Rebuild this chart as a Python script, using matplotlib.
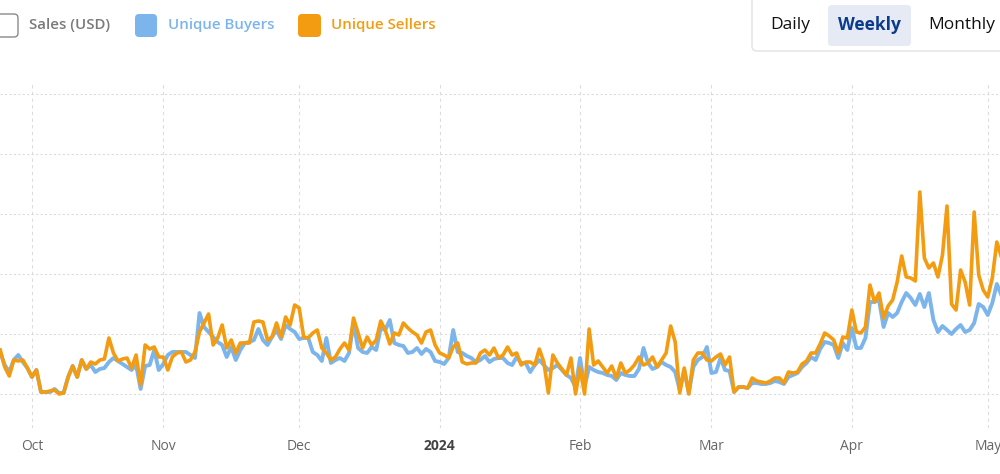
import pandas as pd
import matplotlib
matplotlib.use("Agg")
import matplotlib.pyplot as plt
from matplotlib.patches import FancyBboxPatch
from matplotlib.transforms import IdentityTransform

plt.rcParams["font.family"] = ["Open Sans", "DejaVu Sans"]

# daily series, first day = start_date
start_date = "2023-09-26"

unique_buyers = [
    42, 29, 22, 34, 39, 32, 26, 17, 24, 2, 2, 2, 5, 1, 1, 17, 28, 17, 34, 25,
    29, 22, 25, 26, 32, 36, 33, 30, 27, 24, 29, 5, 28, 29, 44, 24, 30, 39, 42, 42,
    42, 42, 39, 36, 81, 67, 62, 57, 52, 49, 37, 47, 34, 44, 51, 52, 54, 65, 54, 49,
    57, 64, 55, 69, 65, 62, 55, 56, 56, 42, 39, 33, 56, 31, 34, 36, 33, 41, 71, 46,
    42, 41, 47, 44, 66, 64, 74, 51, 49, 48, 41, 42, 46, 40, 45, 42, 33, 32, 30, 36,
    64, 42, 41, 38, 36, 32, 34, 38, 32, 35, 36, 36, 31, 29, 37, 31, 31, 22, 29, 34,
    29, 24, 26, 29, 24, 19, 16, 7, 36, 7, 27, 24, 22, 21, 19, 18, 14, 21, 19, 18,
    18, 25, 46, 31, 25, 27, 32, 29, 27, 22, 4, 24, 1, 27, 34, 37, 47, 21, 22, 36,
    24, 23, 2, 7, 7, 6, 11, 11, 10, 10, 11, 13, 12, 10, 17, 19, 21, 27, 31, 37,
    34, 45, 52, 51, 49, 36, 51, 44, 66, 46, 46, 56, 92, 92, 94, 67, 81, 77, 81, 92,
    101, 96, 89, 100, 87, 101, 74, 62, 68, 64, 60, 65, 69, 62, 64, 71, 90, 87, 79, 91,
    110, 99,
]

unique_sellers = [
    44, 27, 18, 34, 33, 34, 26, 17, 24, 2, 2, 3, 4, 0, 1, 17, 28, 17, 34, 25,
    32, 30, 34, 35, 56, 41, 33, 35, 36, 26, 39, 9, 49, 45, 47, 37, 37, 24, 37, 41,
    42, 32, 34, 42, 62, 71, 80, 49, 56, 69, 46, 54, 41, 51, 51, 51, 72, 73, 72, 54,
    57, 71, 57, 77, 69, 89, 86, 57, 56, 61, 64, 46, 41, 34, 37, 45, 51, 44, 76, 61,
    46, 57, 49, 54, 73, 64, 50, 61, 59, 71, 66, 62, 59, 51, 62, 64, 49, 41, 39, 36,
    47, 51, 32, 30, 31, 31, 41, 44, 39, 46, 36, 39, 47, 39, 41, 29, 32, 32, 29, 45,
    32, 1, 39, 31, 25, 19, 36, 0, 26, 0, 65, 29, 33, 27, 21, 28, 16, 31, 21, 24,
    29, 37, 29, 31, 37, 27, 34, 41, 68, 52, 1, 26, 0, 34, 41, 41, 34, 33, 37, 40,
    29, 37, 2, 7, 7, 6, 16, 13, 12, 11, 13, 16, 16, 11, 22, 21, 22, 30, 33, 41,
    41, 50, 61, 58, 54, 41, 57, 56, 84, 62, 61, 67, 109, 92, 101, 76, 88, 94, 112, 138,
    117, 116, 113, 202, 136, 126, 131, 117, 139, 188, 90, 84, 124, 112, 89, 182, 119, 104, 97, 116,
    152, 137,
]

tick_dates = ["2023-10-03", "2023-11-01", "2023-12-01", "2024-01-01",
              "2024-02-01", "2024-03-01", "2024-04-01", "2024-05-01"]
tick_labels = ["Oct", "Nov", "Dec", "2024", "Feb", "Mar", "Apr", "May"]

legend_labels = ["Sales (USD)", "Unique Buyers", "Unique Sellers"]
range_buttons = ["Daily", "Weekly", "Monthly"]

BLUE = "#7cb5ec"
ORANGE = "#f39c12"
GRID = "#dcdcdc"

W, H = 1000, 474
dates = pd.date_range(start_date, periods=len(unique_sellers), freq="D")

fig = plt.figure(figsize=(W / 100, H / 100), dpi=100)
ax = fig.add_axes([0, (H - 428) / H, 1, (428 - 82) / H])

ax.plot(dates, unique_buyers, color=BLUE, lw=2.8, solid_joinstyle="round")
ax.plot(dates, unique_sellers, color=ORANGE, lw=2.6, solid_joinstyle="round")

ax.set_ylim(-34, 312)
ax.set_xlim(dates[0] - pd.Timedelta(hours=1), dates[0] + pd.Timedelta(days=220.7))
ax.set_yticks(range(0, 301, 60))
ax.set_yticklabels([])
ax.set_xticks(pd.to_datetime(tick_dates))
ax.set_xticklabels(tick_labels)
ax.tick_params(length=0)
ax.tick_params(axis="x", pad=8, labelsize=10, labelcolor="#666666")
for lbl in ax.get_xticklabels():
    if lbl.get_text() == "2024":
        lbl.set_fontweight("bold")
        lbl.set_color("#444444")

ax.xaxis.grid(True, color=GRID, lw=0.8, ls=(0, (3, 3)))
ax.yaxis.grid(True, color=GRID, lw=0.8, ls=(0, (2, 2)))
ax.set_axisbelow(True)
for s in ax.spines.values():
    s.set_visible(False)

px = IdentityTransform()


def box(x0, y0, x1, y1, fc, ec="none", lw=0, r=4):
    fig.add_artist(FancyBboxPatch((x0, H - y1), x1 - x0, y1 - y0,
                                  boxstyle=f"round,pad=0,rounding_size={r}",
                                  fc=fc, ec=ec, lw=lw, transform=px))


# legend
box(-6, 14, 18, 37, "white", ec="#8a8a8a", lw=1.0)
box(135, 14, 157, 37, BLUE)
box(298, 14, 321, 37, ORANGE)
legend_x = [29, 168, 331]
legend_colors = ["#7a7a7a", BLUE, ORANGE]
for lx, txt, c in zip(legend_x, legend_labels, legend_colors):
    fig.text(lx / W, 1 - 25 / H, txt, color=c, fontsize=10.8,
             fontweight="semibold", va="center", ha="left")

# range selector
box(752, -4, 1012, 51, "white", ec="#e2e2e2", lw=1.0, r=5)
box(828, 5, 911, 46, "#e5eaf4", r=4)
btn_x = [790, 869.5, 961.5]
btn_colors = ["#111111", "#0b3a8c", "#111111"]
btn_weights = ["medium", "bold", "medium"]
for bx, txt, c, w in zip(btn_x, range_buttons, btn_colors, btn_weights):
    fig.text(bx / W, 1 - 25 / H, txt, color=c, fontsize=12.5, fontweight=w,
             ha="center", va="center")

fig.savefig("out.png", dpi=100)
